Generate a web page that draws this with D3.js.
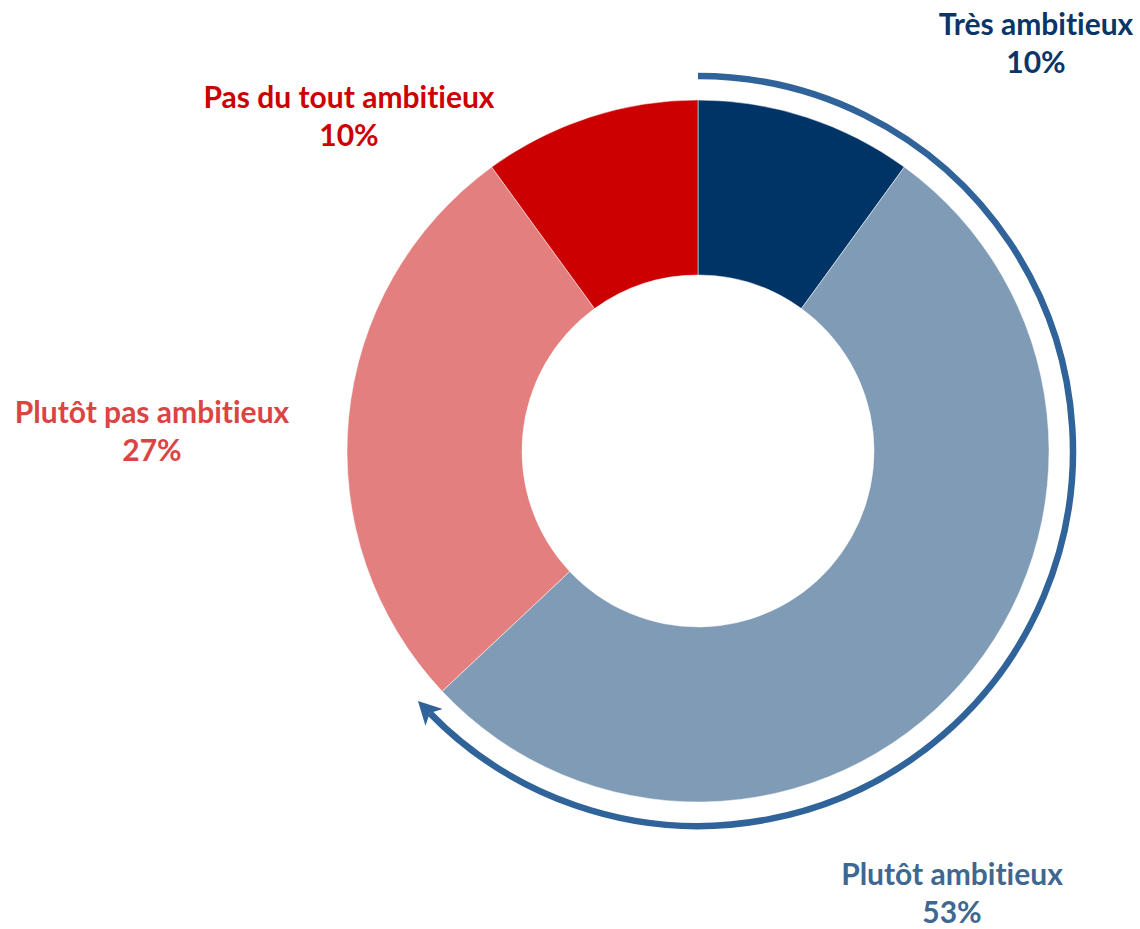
<!DOCTYPE html>
<html lang="fr">
<head>
  <meta charset="utf-8">
  <title>Ambition</title>
  <script src="https://d3js.org/d3.v7.min.js"></script>
  <style>
    body { margin: 0; background: #fff; }
    .label { font-family: Lato, "Open Sans", sans-serif; font-weight: bold; font-size: 30px; text-anchor: middle; font-variant-ligatures: none; }
  </style>
</head>
<body>
  <script>
    // data, clockwise from 12 o'clock
    var categories = ["Très ambitieux", "Plutôt ambitieux", "Plutôt pas ambitieux", "Pas du tout ambitieux"];
    var shares     = [10, 53, 27, 10];
    var sliceColors = ["#003366", "#7f9bb5", "#e37f7e", "#cc0000"];
    var textColors  = ["#0a3566", "#3f6891", "#dc4444", "#cc0000"];
    // where each label sits (centre x, first baseline y)
    var labelPos = [[1036, 35], [952, 885], [152, 423], [349, 108]];

    var width = 1140, height = 929;
    var cx = 698, cy = 451;
    var outerR = 351, innerR = 176, ringR = 375;

    var svg = d3.select("body").append("svg")
      .attr("width", width)
      .attr("height", height);

    var rows = categories.map(function (c, i) { return { name: c, value: shares[i], i: i }; });

    var pie = d3.pie().sort(null).value(function (d) { return d.value; });
    var arc = d3.arc().innerRadius(innerR).outerRadius(outerR);
    var arcs = pie(rows);

    var g = svg.append("g").attr("transform", "translate(" + cx + "," + cy + ")");

    g.selectAll("path.slice")
      .data(arcs)
      .enter()
      .append("path")
      .attr("class", "slice")
      .attr("d", arc)
      .attr("fill", function (d) { return sliceColors[d.data.i]; })
      .attr("stroke", "#fff")
      .attr("stroke-width", 0.5);

    // arrowhead
    svg.append("defs").append("marker")
      .attr("id", "head")
      .attr("viewBox", "0 -12 23 24")
      .attr("refX", 6)
      .attr("refY", 0)
      .attr("markerWidth", 23)
      .attr("markerHeight", 24)
      .attr("markerUnits", "userSpaceOnUse")
      .attr("orient", "auto")
      .append("path")
      .attr("d", "M0,-12L23,0L0,12L6,0Z")
      .attr("fill", "#2f6399");

    // curved arrow round the "ambitieux" share (first two slices)
    var endA = arcs[1].endAngle - 0.02;
    var p = d3.path();
    p.arc(0, 0, ringR, -Math.PI / 2, endA - Math.PI / 2, false);
    g.append("path")
      .attr("d", p.toString())
      .attr("fill", "none")
      .attr("stroke", "#2f6399")
      .attr("stroke-width", 6.5)
      .attr("marker-end", "url(#head)");

    // labels
    var lab = svg.selectAll("text.label")
      .data(rows)
      .enter()
      .append("text")
      .attr("class", "label")
      .attr("fill", function (d) { return textColors[d.i]; })
      .attr("x", function (d) { return labelPos[d.i][0]; })
      .attr("y", function (d) { return labelPos[d.i][1]; });

    lab.append("tspan").text(function (d) { return d.name; });
    lab.append("tspan")
      .attr("x", function (d) { return labelPos[d.i][0]; })
      .attr("dy", 38)
      .text(function (d) { return d.value + "%"; });
  </script>
</body>
</html>
